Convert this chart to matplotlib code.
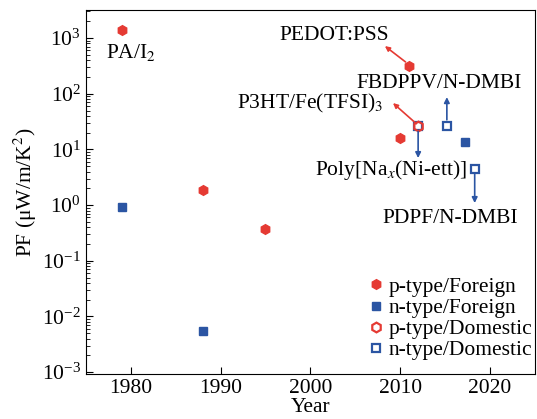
import matplotlib.pyplot as plt
import numpy as np

plt.rcParams['font.family'] = ['Liberation Serif', 'DejaVu Serif']
plt.rcParams['mathtext.fontset'] = 'stix'

RED = '#e53a33'
BLUE = '#2b55a3'

# data (year, PF in uW/m/K^2)
p_foreign_year = [1979, 1988, 1995, 2010, 2011]
p_foreign_pf = [1400, 1.9, 0.37, 16, 310]
n_foreign_year = [1979, 1988, 2017.2]
n_foreign_pf = [0.93, 0.0055, 13.6]
p_domestic_year = [2012]
p_domestic_pf = [26]
n_domestic_year = [2012, 2015.2, 2018.3]
n_domestic_pf = [26, 26, 4.5]

fig = plt.figure(figsize=(5.37, 4.19), dpi=100)
ax = fig.add_axes([0.160, 0.107, 0.836, 0.869])
ax.set_yscale('log')
ax.set_xlim(1975, 2025)
ax.set_ylim(10**-3.036, 10**3.503)

ax.plot(p_foreign_year, p_foreign_pf, 'h', color=RED, ms=7, ls='none', label='p-type/Foreign')
ax.plot(n_foreign_year, n_foreign_pf, 's', color=BLUE, ms=5.5, ls='none', label='n-type/Foreign')
ax.plot(n_domestic_year, n_domestic_pf, 's', mfc='white', mec=BLUE, mew=1.6, ms=5.5, ls='none')
ax.plot(p_domestic_year, p_domestic_pf, 'h', mfc='none', mec=RED, mew=1.6, ms=7, ls='none', label='p-type/Domestic')
ax.plot([], [], 's', mfc='white', mec=BLUE, mew=1.6, ms=5.5, ls='none', label='n-type/Domestic')

fs = 15.5
ax.text(1980, 560, 'PA/I$_2$', fontsize=fs, ha='center', va='center')

arrow_red = dict(arrowstyle='-|>', color=RED, lw=1.2, mutation_scale=7, shrinkA=0, shrinkB=0)
arrow_blue = dict(arrowstyle='-|>', color=BLUE, lw=1.2, mutation_scale=8, shrinkA=0, shrinkB=0)

ax.annotate('', xy=(2008.3, 718), xytext=(2010.6, 372), arrowprops=arrow_red)
ax.text(2002.7, 1130, 'PEDOT:PSS', fontsize=fs, ha='center', va='center')

ax.annotate('', xy=(2009.2, 68), xytext=(2011.8, 29), arrowprops=arrow_red)
ax.text(2000, 68, 'P3HT/Fe(TFSI)$_3$', fontsize=fs, ha='center', va='center')

ax.annotate('', xy=(2012, 7.0), xytext=(2012, 21), arrowprops=arrow_blue)
ax.text(2009, 4.27, 'Poly[Na$_x$(Ni-ett)]', fontsize=fs, ha='center', va='center')

ax.annotate('', xy=(2015.2, 87), xytext=(2015.2, 34), arrowprops=arrow_blue)
ax.text(2014.3, 155, 'FBDPPV/N-DMBI', fontsize=fs, ha='center', va='center')

ax.annotate('', xy=(2018.3, 1.09), xytext=(2018.3, 3.7), arrowprops=arrow_blue)
ax.text(2015.6, 0.585, 'PDPF/N-DMBI', fontsize=fs, ha='center', va='center')

ax.set_xticks([1980, 1990, 2000, 2010, 2020])
ax.tick_params(axis='both', which='both', direction='in', labelsize=fs)
ax.tick_params(axis='both', which='major', length=5)
ax.tick_params(axis='y', which='minor', length=3)
ax.set_xlabel('Year', fontsize=fs, labelpad=0)
ax.set_ylabel('PF (μW/m/K$^2$)', fontsize=fs, labelpad=2)

ax.legend(loc='lower right', bbox_to_anchor=(1.008, 0.02), fontsize=fs, frameon=False,
          handlelength=0.5, handletextpad=0.3, labelspacing=0.05, borderaxespad=0.1,
          borderpad=0.2)

fig.savefig('out.png', dpi=100)
